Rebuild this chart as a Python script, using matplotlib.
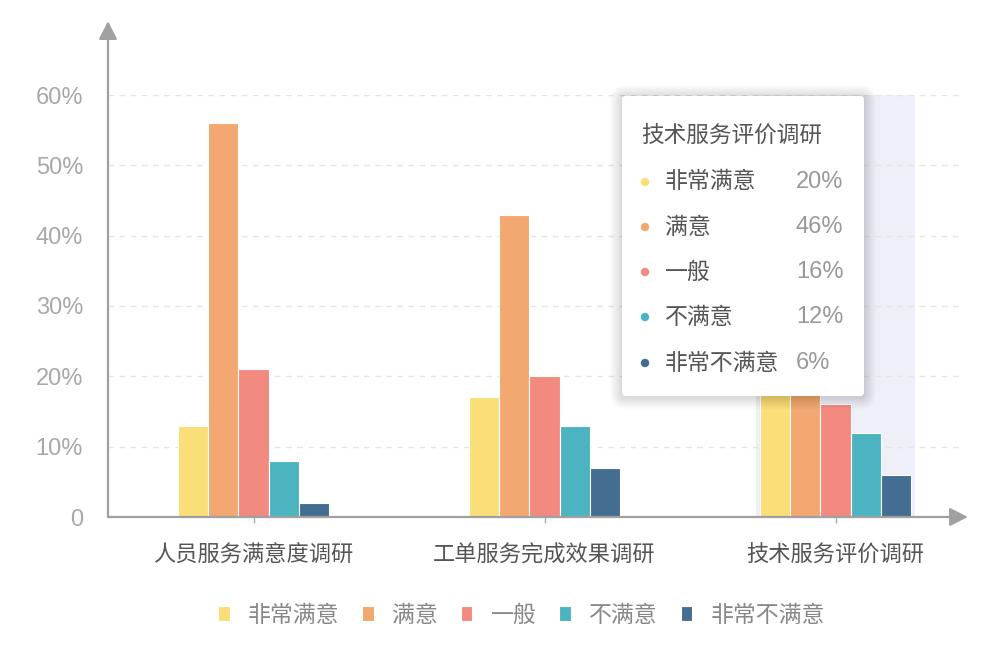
import matplotlib
matplotlib.use("Agg")
import matplotlib.pyplot as plt
import numpy as np
from matplotlib.patches import FancyBboxPatch, Circle
from matplotlib.transforms import Affine2D


CATEGORIES = ["人员服务满意度调研", "工单服务完成效果调研", "技术服务评价调研"]
SERIES = ["非常满意", "满意", "一般", "不满意", "非常不满意"]
VERY_SATISFIED = [13, 17, 20]
SATISFIED = [56, 43, 46]
NEUTRAL = [21, 20, 16]
UNSATISFIED = [8, 13, 12]
VERY_UNSATISFIED = [2, 7, 6]
Y_TICKS = [0, 10, 20, 30, 40, 50, 60]
Y_LABELS = ["0", "10%", "20%", "30%", "40%", "50%", "60%"]
HIGHLIGHT = 2  # category shown in the tooltip

COLORS = ["#FADE78", "#F2A870", "#F38A80", "#4CB4C0", "#446E91"]
NUM_FONT = ["Liberation Sans", "DejaVu Sans"]
W, H = 1000, 650


def main():
    plt.rcParams["font.family"] = ["Noto Sans CJK SC", "DejaVu Sans"]
    values = [VERY_SATISFIED, SATISFIED, NEUTRAL, UNSATISFIED, VERY_UNSATISFIED]

    fig = plt.figure(figsize=(W / 100, H / 100), dpi=100)
    fig.patch.set_facecolor("white")
    ax = fig.add_axes([0.108, 1 - 517 / H, 0.873, 422 / H])
    px = Affine2D().scale(1 / W, 1 / H) + fig.transFigure  # pixel coords, origin bottom-left

    x = np.arange(len(CATEGORIES))
    width = 0.104
    ax.axvspan(HIGHLIGHT - 0.272, HIGHLIGHT + 0.272, color="#EFEFF8", lw=0, zorder=0)
    for i, (name, vals) in enumerate(zip(SERIES, values)):
        ax.bar(x + (i - 2) * width, vals, width, color=COLORS[i], edgecolor="white",
               linewidth=0.8, label=name, zorder=2)

    ax.set_xlim(-0.5, 2.5)
    ax.set_ylim(0, 60)
    for y in Y_TICKS[1:]:
        ax.axhline(y, xmin=0, xmax=0.975, color="#e4e4e4", lw=1, ls=(0, (4, 4)), zorder=1)

    for s in ax.spines.values():
        s.set_visible(False)
    ax.set_yticks(Y_TICKS)
    ax.set_yticklabels(Y_LABELS, family=NUM_FONT)
    ax.tick_params(axis="y", length=0, pad=18, labelsize=17, labelcolor="#a8a8a8")
    ax.set_xticks(x)
    ax.set_xticklabels(CATEGORIES)
    ax.tick_params(axis="x", length=4, width=1, color="#aaaaaa", pad=15,
                   labelsize=16, labelcolor="#555555")

    arrow = dict(arrowstyle="-|>,head_length=0.55,head_width=0.28", color="#a0a0a0",
                 lw=1.6, mutation_scale=20, shrinkA=0, shrinkB=0)
    ax.annotate("", xy=(0, 1.175), xytext=(0, 0), xycoords="axes fraction",
                arrowprops=arrow, annotation_clip=False)
    ax.annotate("", xy=(0.985, 0), xytext=(0, 0), xycoords="axes fraction",
                arrowprops=arrow, annotation_clip=False)

    ax.legend(ncol=5, loc="center", bbox_to_anchor=(0.5215, 1 - 615 / H),
              bbox_transform=fig.transFigure, frameon=False, fontsize=16.5,
              labelcolor="#888888", handlelength=0.5, handleheight=0.68,
              handletextpad=0.8, columnspacing=1.0)

    # tooltip
    x0, x1, ytop, ybot = 622, 864, 96, 396
    for k in range(12, 0, -1):
        fig.add_artist(FancyBboxPatch((x0, H - ybot - 1), x1 - x0, ybot - ytop,
                                      boxstyle=f"round,pad={k * 1.0},rounding_size={4 + k}",
                                      transform=px, fc="#000000", ec="none",
                                      alpha=0.012, zorder=9))
    fig.add_artist(FancyBboxPatch((x0, H - ybot), x1 - x0, ybot - ytop,
                                  boxstyle="round,pad=0,rounding_size=4", transform=px,
                                  fc="white", ec="none", zorder=10))
    fig.text(641, H - 135, CATEGORIES[HIGHLIGHT], transform=px, fontsize=16.3,
             color="#555555", va="center", ha="left", zorder=11)
    rows = [182, 227, 272, 317, 363]
    for i, (name, vals) in enumerate(zip(SERIES, values)):
        yy = H - rows[i]
        fig.add_artist(Circle((645, yy), 4.2, transform=px, fc=COLORS[i], ec="none", zorder=11))
        fig.text(665, yy, name, transform=px, fontsize=16.5, color="#555555",
                 va="center", ha="left", zorder=11)
        fig.text(796, yy, f"{vals[HIGHLIGHT]}%", transform=px, fontsize=17,
                 family=NUM_FONT, color="#999999", va="center", ha="left", zorder=11)

    fig.savefig("out.png", dpi=100, facecolor="white")
    plt.close(fig)


if __name__ == "__main__":
    main()
